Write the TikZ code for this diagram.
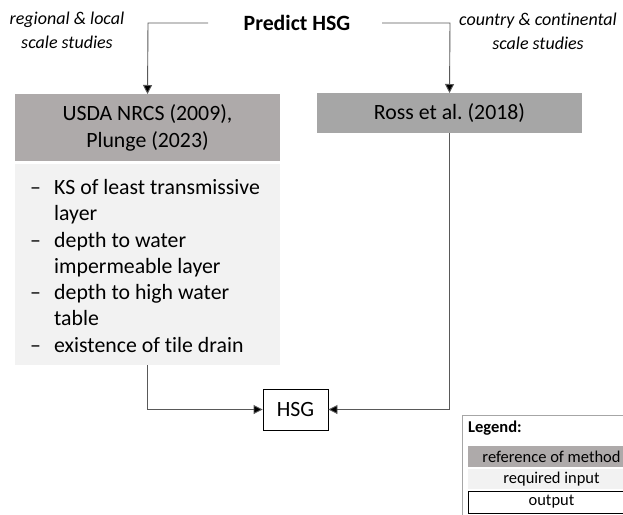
\documentclass[tikz,border=0pt]{standalone}
\usepackage{fontspec}
\setmainfont{Carlito}[Ligatures={NoCommon}]
\usetikzlibrary{arrows.meta}
\definecolor{refgrayA}{RGB}{174,170,170}
\definecolor{refgrayB}{RGB}{166,166,166}
\definecolor{inputgray}{RGB}{242,242,242}
\definecolor{linegray}{RGB}{89,89,89}
\tikzset{
  conn/.style={draw=linegray, line width=0.9pt},
  arr/.style={conn, -{Triangle[length=9pt,width=9pt,fill=black]}},
  maintext/.style={font=\fontsize{21.8}{27}\selectfont},
  itext/.style={font=\fontsize{18}{24}\selectfont\itshape, align=center},
  legtext/.style={font=\fontsize{16.5}{20}\selectfont},
  item/.style={maintext, anchor=base west, inner sep=0pt},
}
\begin{document}
\begin{tikzpicture}[x=1pt,y=-1pt]
\useasboundingbox (0,0) rectangle (623,514);
\clip (0,0) rectangle (623,514);
% title and scale labels
\node[font=\fontsize{21.8}{26}\selectfont\bfseries] (title) at (297,23) {Predict HSG};
\node[itext] (lscale) at (67,30) {regional \& local\\scale studies};
\node[itext] (rscale) at (538,31) {country \& continental\\scale studies};
% method boxes
\fill[refgrayA] (15,94) rectangle (280,161);
\node[maintext, align=center] (usda) at (147.5,127.5) {USDA NRCS (2009),\\Plunge (2023)};
\coordinate (usdatop) at (147.5,94);
\fill[refgrayB] (317,93) rectangle (582,133);
\node[maintext] (ross) at (449.5,113) {Ross et al.\ (2018)};
\coordinate (rosstop) at (449.5,93);
\coordinate (rossbot) at (449.5,133);
% input box
\fill[inputgray] (15,164) rectangle (280,365);
\coordinate (inbot) at (147.5,365);
\foreach \y in {194,247,299,352}
  \node[item] at (30,\y) {–};
\node[item] (i1) at (54,194) {KS of least transmissive};
\node[item] (i2) at (54,220) {layer};
\node[item] (i3) at (54,247) {depth to water};
\node[item] (i4) at (54,273) {impermeable layer};
\node[item] (i5) at (54,299) {depth to high water};
\node[item] (i6) at (54,325) {table};
\node[item] (i7) at (54,352) {existence of tile drain};
% output
\node[maintext, draw=black, line width=0.9pt, fill=white, minimum width=65pt, minimum height=41pt, inner sep=0pt] (hsg) at (295.5,409.5) {HSG};
% connectors
\draw[arr] (title.west -| 208,0) -- (148,23) -- (usdatop);
\draw[arr] (title.east -| 382,0) -- (450,23) -- (rosstop);
\draw[arr] (inbot) |- (hsg.west);
\draw[arr] (rossbot) |- (hsg.east);
% legend
\draw[draw=refgrayB, line width=0.8pt] (462,415) rectangle (640,530);
\node[legtext, font=\fontsize{16.5}{20}\selectfont\bfseries, anchor=west, inner sep=0pt] (legh) at (468,428) {Legend:};
\fill[refgrayA] (468,446) rectangle (635,467);
\node[legtext] (l1) at (551.5,457) {reference of method};
\fill[inputgray] (468,469) rectangle (635,489);
\node[legtext] (l2) at (551.5,479.5) {required input};
\draw[black, line width=0.9pt, fill=white] (468,491) rectangle (635,513);
\node[legtext] (l3) at (551.5,502) {output};
\end{tikzpicture}
\end{document}
